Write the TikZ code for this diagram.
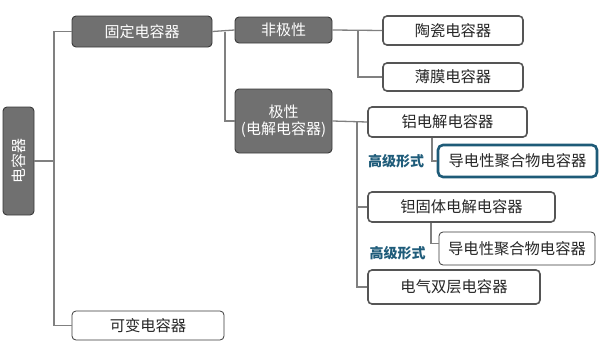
\documentclass[tikz,border=0pt]{standalone}
\usepackage{fontspec}
\setmainfont{Noto Sans CJK SC}
\definecolor{darkfill}{HTML}{707070}
\definecolor{darkedge}{HTML}{3A3A3A}
\definecolor{lineg}{HTML}{808080}
\definecolor{boxedge}{HTML}{555555}
\definecolor{blueedge}{HTML}{1E5B78}
\definecolor{bluetext}{HTML}{1F5C7A}
\tikzset{
  darkbox/.style={draw=darkedge, line width=0.9pt, fill=darkfill, rounded corners=4pt, text=white, font=\fontsize{15}{17}\selectfont, align=center, inner sep=0pt},
  whitebox/.style={draw=boxedge, line width=1.6pt, fill=white, rounded corners=4pt, text=black!85, font=\fontsize{15.3}{17}\selectfont, inner sep=0pt},
  thinbox/.style={draw=darkedge, line width=0.8pt, fill=white, rounded corners=4pt, text=black!85, font=\fontsize{15.3}{17}\selectfont, inner sep=0pt},
  bluebox/.style={draw=blueedge, line width=2.6pt, fill=white, rounded corners=5pt, text=black!85, font=\fontsize{15.3}{17}\selectfont, inner sep=0pt},
  conn/.style={draw=lineg, line width=1.3pt},
  adv/.style={text=bluetext, font=\bfseries\fontsize{14}{16}\selectfont, inner sep=0pt}
}
\begin{document}
\begin{tikzpicture}[x=1pt,y=-1pt]
\useasboundingbox (0,0) rectangle (600,356);
% nodes
\node[darkbox, minimum width=31pt, minimum height=108pt] (root) at (18.5,161) {\rotatebox{90}{电容器}};
\node[darkbox, minimum width=140pt, minimum height=31pt] (fixed) at (142,31.5) {固定电容器};
\node[thinbox, minimum width=152pt, minimum height=29pt] (var) at (148,325.5) {可变电容器};
\node[darkbox, minimum width=97pt, minimum height=26pt] (nonpol) at (283.5,30) {非极性};
\node[darkbox, minimum width=97pt, minimum height=64pt] (pol) at (283.5,121) {极性\\(电解电容器)};
\node[whitebox, minimum width=140pt, minimum height=29pt] (cer) at (453,30.5) {陶瓷电容器};
\node[whitebox, minimum width=140pt, minimum height=28pt] (film) at (453,77) {薄膜电容器};
\node[whitebox, minimum width=159pt, minimum height=30pt] (al) at (447.5,122) {铝电解电容器};
\node[bluebox, minimum width=159pt, minimum height=32pt] (poly1) at (517.5,161) {导电性聚合物电容器};
\node[adv] (adv1) at (396,161) {高级形式};
\node[whitebox, minimum width=187pt, minimum height=30pt] (ta) at (461.5,207) {钽固体电解电容器};
\node[thinbox, minimum width=156pt, minimum height=33pt] (poly2) at (517,248.5) {导电性聚合物电容器};
\node[adv] (adv2) at (397.5,253) {高级形式};
\node[whitebox, minimum width=172pt, minimum height=34pt] (edl) at (454,287) {电气双层电容器};
% junction coordinates
\coordinate (j1) at (54,0);
\coordinate (j2) at (225,0);
\coordinate (j3) at (358,0);
\coordinate (j4) at (357,0);
\coordinate (j5) at (432,0);
\coordinate (j6) at (431,0);
% connectors
\draw[conn] (root.east) -- (root.east -| j1);
\draw[conn] (fixed.west) -- (fixed.west -| j1) |- (var.west);
\draw[conn] (fixed.east) -- (nonpol.west);
\draw[conn] (fixed.east -| j2) |- (pol.west);
\draw[conn] (nonpol.east) -- (cer.west);
\draw[conn] (nonpol.east -| j3) |- (film.west);
\draw[conn] (pol.east) -- (al.west);
\draw[conn] (pol.east -| j4) |- (edl.west);
\draw[conn] (ta.west -| j4) -- (ta.west);
\draw[conn] (al.south -| j5) |- (poly1.west);
\draw[conn] (ta.south -| j6) |- ([yshift=5pt]poly2.west);
\end{tikzpicture}
\end{document}
